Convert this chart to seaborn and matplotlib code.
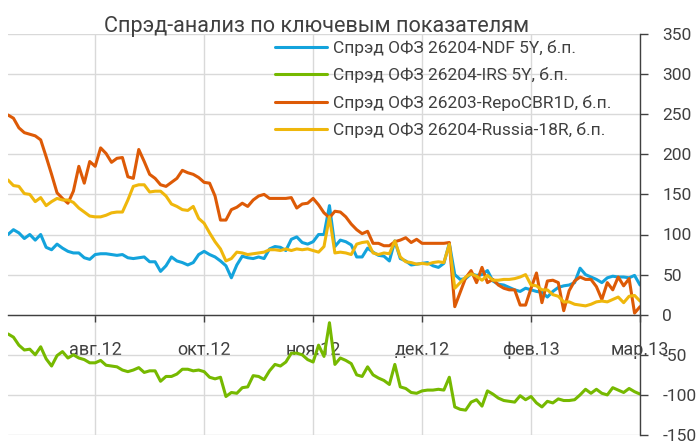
import matplotlib
matplotlib.use("Agg")
import matplotlib.pyplot as plt
import numpy as np
import seaborn as sns

# spread series, one point per trading day
ndf_5y = [100, 106, 102, 95, 100, 93, 100, 84, 81, 88,
          83, 79, 77, 77, 71, 69, 75, 76, 76, 75,
          74, 75, 71, 70, 71, 72, 66, 66, 54, 61,
          72, 67, 65, 62, 65, 75, 79, 75, 72, 67,
          61, 46, 62, 73, 71, 70, 72, 70, 82, 85,
          84, 80, 94, 97, 90, 88, 91, 100, 100, 136,
          85, 93, 91, 87, 72, 72, 83, 78, 74, 73,
          67, 92, 70, 67, 62, 63, 64, 65, 61, 59,
          64, 89, 50, 44, 45, 51, 49, 50, 55, 42,
          38, 37, 34, 31, 29, 33, 31, 29, 28, 22,
          29, 34, 36, 37, 40, 58, 50, 47, 44, 40,
          46, 48, 47, 47, 46, 49, 37]

irs_5y = [-24, -28, -38, -44, -43, -50, -40, -55, -64, -51,
          -46, -54, -50, -54, -56, -60, -60, -57, -63, -64,
          -65, -69, -71, -69, -66, -72, -70, -70, -83, -77,
          -77, -74, -68, -68, -70, -69, -71, -78, -80, -78,
          -102, -97, -98, -91, -90, -76, -77, -81, -70, -62,
          -64, -59, -48, -48, -50, -56, -59, -38, -52, -10,
          -62, -54, -57, -61, -75, -77, -65, -75, -79, -82,
          -87, -62, -90, -92, -97, -98, -95, -94, -94, -93,
          -94, -78, -115, -118, -119, -109, -106, -114, -95, -99,
          -104, -107, -108, -109, -101, -106, -102, -110, -115, -108,
          -110, -105, -107, -107, -106, -100, -93, -98, -93, -98,
          -100, -91, -94, -97, -92, -96, -99]

repo_cbr = [249, 245, 233, 227, 225, 223, 218, 197, 175, 152,
            145, 139, 154, 185, 164, 191, 185, 208, 201, 190,
            195, 196, 172, 170, 206, 191, 175, 170, 162, 160,
            165, 170, 180, 177, 175, 171, 165, 164, 148, 118,
            118, 131, 134, 139, 135, 143, 148, 150, 145, 145,
            145, 145, 146, 133, 138, 139, 145, 137, 127, 121,
            129, 128, 122, 113, 106, 101, 104, 89, 89, 86,
            86, 91, 93, 96, 90, 94, 89, 89, 89, 89,
            89, 90, 10, 28, 46, 55, 40, 59, 40, 44,
            37, 33, 31, 31, 12, 12, 33, 52, 15, 42,
            43, 40, 5, 30, 42, 47, 44, 44, 35, 19,
            40, 31, 47, 36, 45, 2, 10]

russia_18r = [168, 161, 160, 151, 150, 141, 146, 136, 141, 145,
              143, 143, 140, 133, 128, 123, 122, 122, 124, 127,
              128, 128, 143, 160, 162, 162, 153, 154, 154, 148,
              138, 135, 131, 130, 135, 120, 114, 102, 91, 82,
              67, 70, 78, 77, 75, 76, 77, 78, 81, 81,
              80, 82, 80, 82, 81, 82, 80, 78, 85, 122,
              77, 78, 77, 75, 88, 90, 91, 77, 75, 77,
              76, 92, 72, 66, 65, 63, 64, 63, 65, 66,
              65, 88, 33, 40, 47, 51, 48, 43, 49, 43,
              43, 44, 44, 45, 47, 50, 37, 36, 31, 31,
              25, 23, 16, 16, 13, 12, 11, 13, 16, 17,
              16, 19, 22, 15, 23, 24, 17]

series_names = ["Спрэд ОФЗ 26204-NDF 5Y, б.п.",
                "Спрэд ОФЗ 26204-IRS 5Y, б.п.",
                "Спрэд ОФЗ 26203-RepoCBR1D, б.п.",
                "Спрэд ОФЗ 26204-Russia-18R, б.п."]
series_colors = ["#13a3dc", "#76b900", "#dd5a06", "#efb70c"]

tick_days = [16, 36, 56, 76, 96, 116]
tick_labels = ["авг.12", "окт.12", "ноя.12", "дек.12", "фев.13", "мар.13"]

sns.set_theme(style="white")
plt.rcParams["font.family"] = ["Roboto", "DejaVu Sans"]
plt.rcParams["axes.unicode_minus"] = False
text_color = "#404040"

fig = plt.figure(figsize=(6.98, 4.46), dpi=100)
ax = fig.add_axes([8 / 698, 11 / 446, 632 / 698, 401 / 446])

days = np.arange(len(ndf_5y))
for name, vals, color in zip(series_names, [ndf_5y, irs_5y, repo_cbr, russia_18r], series_colors):
    sns.lineplot(x=days, y=vals, color=color, linewidth=2.2, label=name, ax=ax)

ax.set_xlim(0, 116)
ax.set_ylim(-150, 350)
ax.set_yticks(range(-150, 351, 50))
ax.set_xticks(tick_days)
ax.set_xticklabels(tick_labels)
ax.yaxis.tick_right()

ax.grid(True, color="#d9d9d9", linewidth=1)
ax.set_axisbelow(True)

for side in ["left", "top"]:
    ax.spines[side].set_visible(False)
ax.spines["bottom"].set_position(("data", 0))
for side in ["bottom", "right"]:
    ax.spines[side].set_color(text_color)
    ax.spines[side].set_linewidth(1)

ax.tick_params(axis="x", bottom=True, direction="out", length=5, width=1,
               color=text_color, labelcolor=text_color, labelsize=13, pad=14)
ax.tick_params(axis="y", right=True, left=False, direction="out", length=6, width=1,
               color=text_color, labelcolor=text_color, labelsize=12.5, pad=10)

ax.legend(loc="upper left", bbox_to_anchor=(275 / 698, 1 - 40 / 446),
          bbox_transform=fig.transFigure, frameon=False, fontsize=12.5,
          borderpad=0, borderaxespad=0, handlelength=3.0, handletextpad=0.35,
          labelspacing=0.66, labelcolor=text_color)

fig.text(316.7 / 698, 1 - 32 / 446, "Спрэд-анализ по ключевым показателям",
         ha="center", va="baseline", fontsize=15.6, color=text_color)

fig.savefig("out.png", dpi=100)
